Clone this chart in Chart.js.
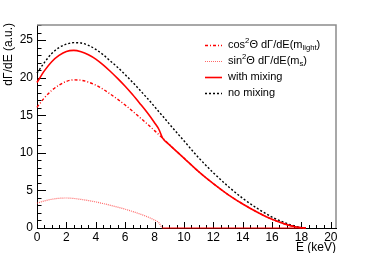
<!DOCTYPE html>
<html>
<head>
<meta charset="utf-8">
<script src="https://cdn.jsdelivr.net/npm/chart.js@4.4.1/dist/chart.umd.min.js"></script>
<style>
  html, body { margin: 0; padding: 0; background: #fff; }
  #wrap { width: 374px; height: 253px; position: relative; }
</style>
</head>
<body>
<div id="wrap"><canvas id="chart"></canvas></div>
<script>
// energies in keV and the spectra
var energy     = [0, 0.5, 1, 1.5, 2, 2.5, 3, 3.5, 4, 4.5, 5, 5.5, 6, 6.5, 7, 7.5, 8, 8.3, 8.55, 9, 10, 11, 12, 13, 14, 15, 16, 17, 17.5, 18, 18.3];
var noMixing   = [20.6, 22.0, 23.2, 24.0, 24.45, 24.65, 24.6, 24.3, 23.75, 23.05, 22.2, 21.35, 20.4, 19.4, 18.35, 17.27, 16.15, 15.45, 14.9, 13.85, 11.6, 9.35, 7.35, 5.55, 3.95, 2.6, 1.45, 0.6, 0.28, 0.06, 0];
var cosLight   = [16.05, 17.3, 18.3, 19.0, 19.5, 19.7, 19.65, 19.4, 19.0, 18.45, 17.8, 17.1, 16.35, 15.55, 14.7, 13.85, 12.95, 12.4, 11.95, 11.1, 9.3, 7.5, 5.9, 4.45, 3.2, 2.1, 1.15, 0.45, 0.2, 0.04, 0];
var sinHeavy   = [3.3, 3.6, 3.82, 3.95, 3.99, 3.93, 3.8, 3.65, 3.47, 3.25, 3.02, 2.77, 2.5, 2.2, 1.87, 1.5, 1.05, 0.7, 0, 0, 0, 0, 0, 0, 0, 0, 0, 0, 0, 0, 0];
var withMixing = [19.35, 20.9, 22.12, 22.95, 23.49, 23.63, 23.45, 23.05, 22.47, 21.7, 20.82, 19.87, 18.85, 17.75, 16.57, 15.35, 14.0, 13.1, 11.95, 11.1, 9.3, 7.5, 5.9, 4.45, 3.2, 2.1, 1.15, 0.45, 0.2, 0.04, 0];

var xTicks = [0, 2, 4, 6, 8, 10, 12, 14, 16, 18, 20];
var yTicks = [0, 5, 10, 15, 20, 25];

var FONT = '"Liberation Sans", Arial, Helvetica, sans-serif';
var SIN_COLOR = 'rgba(255,40,40,0.7)';

function pts(ys) {
    return energy.map(function (e, i) { return { x: e, y: ys[i] }; });
}

// legend entries: rich text pieces
var legendItems = [
    { parts: [['cos'], ['2', 'sup'], ['Θ dΓ/dE(m'], ['light', 'sub'], [')']], color: '#ff0000', dash: [3, 2, 1, 2], width: 1.4 },
    { parts: [['sin'], ['2', 'sup'], ['Θ dΓ/dE(m'], ['s', 'sub'], [')']], color: SIN_COLOR, dash: [1, 1], width: 1.2 },
    { parts: [['with mixing']], color: '#ff0000', dash: [], width: 1.6 },
    { parts: [['no mixing']], color: '#000000', dash: [2, 2], width: 1.4 }
];

function drawRich(ctx, parts, x, y, size) {
    parts.forEach(function (p) {
        var fs = size, dy = 0;
        if (p[1] === 'sup') { fs = size * 0.7; dy = -size * 0.38; }
        if (p[1] === 'sub') { fs = size * 0.7; dy = size * 0.3; }
        ctx.font = fs + 'px ' + FONT;
        ctx.fillText(p[0], x, y + dy);
        x += ctx.measureText(p[0]).width;
    });
}

// frame, inside tick marks, titles and legend
var framePlugin = {
    id: 'framePlugin',
    beforeDatasetsDraw: function (chart) {
        var ctx = chart.ctx, a = chart.chartArea;
        var xs = chart.scales.x, ys = chart.scales.y;
        ctx.save();
        ctx.strokeStyle = '#000';
        ctx.lineWidth = 1;
        ctx.beginPath();
        for (var v = 0; v <= 20.001; v += 0.5) {
            var px = Math.round(xs.getPixelForValue(v)) + 0.5;
            var len = (Math.abs(v % 2) < 1e-6) ? 6 : 3;
            ctx.moveTo(px, a.bottom);
            ctx.lineTo(px, a.bottom - len);
        }
        for (var w = 0; w <= 27.001; w += 1) {
            var py = Math.round(ys.getPixelForValue(w)) + 0.5;
            var l2 = (w % 5 === 0) ? 9 : 4.5;
            ctx.moveTo(a.left, py);
            ctx.lineTo(a.left + l2, py);
        }
        ctx.stroke();
        // top and right frame edges
        ctx.strokeStyle = '#8c8c8c';
        ctx.lineWidth = 1.5;
        ctx.beginPath();
        ctx.moveTo(a.left, a.top);
        ctx.lineTo(a.right, a.top);
        ctx.lineTo(a.right, a.bottom);
        ctx.stroke();
        ctx.restore();
    },
    afterDraw: function (chart) {
        var ctx = chart.ctx, a = chart.chartArea;
        ctx.save();
        ctx.fillStyle = '#000';
        // axis titles
        ctx.font = '12px ' + FONT;
        ctx.textAlign = 'right';
        ctx.textBaseline = 'alphabetic';
        ctx.fillText('E (keV)', a.right, 251);
        ctx.save();
        ctx.translate(12, a.top - 2);
        ctx.rotate(-Math.PI / 2);
        ctx.fillText('dΓ/dE (a.u.)', 0, 0);
        ctx.restore();
        // legend
        ctx.textAlign = 'left';
        ctx.textBaseline = 'middle';
        var rows = [45, 61, 77, 93];
        legendItems.forEach(function (it, i) {
            var y = rows[i];
            ctx.strokeStyle = it.color;
            ctx.lineWidth = it.width;
            ctx.setLineDash(it.dash);
            ctx.beginPath();
            ctx.moveTo(205, y + 0.5);
            ctx.lineTo(222, y + 0.5);
            ctx.stroke();
            ctx.setLineDash([]);
            ctx.fillStyle = '#000';
            drawRich(ctx, it.parts, 228, y, 11);
        });
        ctx.restore();
    }
};

var ctx = document.getElementById('chart').getContext('2d');
new Chart(ctx, {
    type: 'scatter',
    data: {
        datasets: [
            {
                label: 'sin2',
                data: pts(sinHeavy),
                showLine: true,
                borderColor: SIN_COLOR,
                borderWidth: 1.2,
                borderDash: [1, 1],
                segment: {
                    borderDash: function (c) { return (c.p0.parsed.y === 0 && c.p1.parsed.y === 0) ? [] : [1, 1]; },
                    borderColor: function (c) { return (c.p0.parsed.y === 0 && c.p1.parsed.y === 0) ? '#ff0000' : SIN_COLOR; }
                },
                pointRadius: 0,
                cubicInterpolationMode: 'monotone',
                clip: 4
            },
            {
                label: 'cos2',
                data: pts(cosLight),
                showLine: true,
                borderColor: '#ff0000',
                borderWidth: 1.4,
                borderDash: [3, 2, 1, 2],
                pointRadius: 0,
                cubicInterpolationMode: 'monotone',
                clip: 4
            },
            {
                label: 'with mixing',
                data: pts(withMixing),
                showLine: true,
                borderColor: '#ff0000',
                borderWidth: 1.6,
                pointRadius: 0,
                cubicInterpolationMode: 'monotone',
                clip: 4
            },
            {
                label: 'no mixing',
                data: pts(noMixing),
                showLine: true,
                borderColor: '#000000',
                borderWidth: 1.4,
                borderDash: [2, 2],
                pointRadius: 0,
                cubicInterpolationMode: 'monotone',
                clip: 4
            }
        ]
    },
    options: {
        responsive: true,
        maintainAspectRatio: false,
        animation: false,
        devicePixelRatio: 1,
        layout: { padding: { left: 0, right: 38, top: 25, bottom: 0 } },
        plugins: { legend: { display: false }, tooltip: { enabled: false } },
        scales: {
            x: {
                type: 'linear',
                min: 0,
                max: 20.35,
                afterFit: function (s) { s.height = 25; },
                afterBuildTicks: function (s) { s.ticks = xTicks.map(function (v) { return { value: v }; }); },
                grid: { display: false, drawTicks: false },
                border: { display: true, color: '#000', width: 1 },
                ticks: { autoSkip: false, maxRotation: 0, padding: 2, color: '#000', font: { family: FONT, size: 12 } }
            },
            y: {
                type: 'linear',
                min: 0,
                max: 27,
                afterFit: function (s) { s.width = 37; },
                afterBuildTicks: function (s) { s.ticks = yTicks.map(function (v) { return { value: v }; }); },
                grid: { display: false, drawTicks: false },
                border: { display: true, color: '#000', width: 1 },
                ticks: { autoSkip: false, padding: 4, color: '#000', font: { family: FONT, size: 12 } }
            }
        }
    },
    plugins: [framePlugin]
});
</script>
</body>
</html>
